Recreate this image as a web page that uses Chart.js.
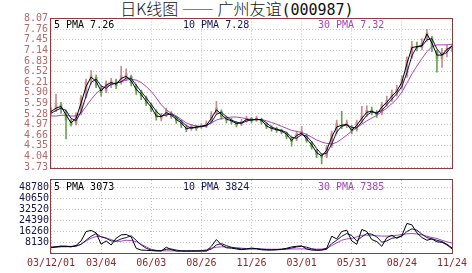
<!DOCTYPE html>
<html lang="zh-CN">
<head>
<meta charset="UTF-8">
<title>日K线图 —— 广州友谊(000987)</title>
<script src="https://cdn.jsdelivr.net/npm/chart.js"></script>
<style>
    body { margin: 0; background: #fff; width: 472px; height: 273px; overflow: hidden; position: relative; }
    #title { position: absolute; left: 0; top: -1px; width: 474px; text-align: center; font-family: "Noto Sans CJK SC", sans-serif; font-size: 16px; font-weight: 300; line-height: 19px; color: #111; }
    #title b { font-family: "DejaVu Sans Mono", monospace; font-size: 15px; }
    #priceBox { position: absolute; left: 0; top: 0; }
    #volBox { position: absolute; left: 0; top: 172px; }
</style>
</head>
<body>
<div id="title">日K线图 —— 广州友谊<b>(000987)</b></div>
<canvas id="priceBox" width="472" height="176"></canvas>
<canvas id="volBox" width="472" height="101"></canvas>

<script>
// x轴日期标签 (每10个点一个)
const dateLabels = ['03/12/01', '03/04', '06/03', '08/26', '11/26', '03/01', '05/31', '08/24', '11/24'];
const priceTicks = [3.73, 4.04, 4.35, 4.66, 4.97, 5.28, 5.59, 5.90, 6.21, 6.52, 6.83, 7.14, 7.45, 7.76, 8.07];
const volTicks = [8130, 16260, 24390, 32520, 40650, 48780];
const maNames = ['5 PMA', '10 PMA', '30 PMA'];

// K线 (开, 收, 高, 低)
const open = [5.30, 5.40, 5.55, 5.35, 5.08, 5.00, 5.30, 5.80, 6.25, 6.35, 6.05, 5.95, 6.15, 6.25, 6.20, 6.35, 6.38, 6.10, 5.92, 5.75,
    5.55, 5.35, 5.15, 5.25, 5.30, 5.18, 5.05, 4.90, 4.85, 4.88, 4.90, 4.92, 5.05, 5.30, 5.35, 5.18, 5.10, 5.02, 4.98, 5.08,
    5.15, 5.10, 5.12, 5.00, 4.90, 4.85, 4.80, 4.72, 4.58, 4.55, 4.70, 4.65, 4.45, 4.22, 4.08, 4.05, 4.35, 4.75, 4.95, 4.95,
    4.90, 4.82, 5.05, 5.25, 5.40, 5.30, 5.30, 5.55, 5.70, 5.88, 6.05, 6.40, 6.95, 7.25, 7.22, 7.45, 7.50, 7.10, 6.90, 7.10, 7.18];
const close = [5.40, 5.55, 5.42, 5.10, 4.98, 5.25, 5.75, 6.20, 6.40, 6.12, 5.90, 6.18, 6.25, 6.10, 6.40, 6.45, 6.18, 5.95, 5.80, 5.60,
    5.42, 5.18, 5.25, 5.38, 5.20, 5.08, 4.95, 4.82, 4.92, 4.85, 4.95, 5.00, 5.25, 5.45, 5.20, 5.10, 5.05, 4.96, 5.06, 5.15,
    5.08, 5.16, 5.05, 4.90, 4.84, 4.80, 4.75, 4.62, 4.48, 4.70, 4.78, 4.50, 4.32, 4.10, 4.02, 4.30, 4.70, 5.00, 4.92, 5.02,
    4.78, 5.02, 5.22, 5.38, 5.32, 5.25, 5.55, 5.68, 5.85, 6.00, 6.30, 6.85, 7.25, 7.20, 7.35, 7.65, 7.25, 6.90, 7.08, 7.20, 7.25];
const high = [5.48, 5.86, 5.62, 5.40, 5.12, 5.32, 5.82, 6.30, 6.55, 6.42, 6.10, 6.25, 6.32, 6.30, 6.67, 6.60, 6.42, 6.15, 5.98, 5.80,
    5.60, 5.40, 5.30, 5.45, 5.35, 5.22, 5.10, 4.95, 4.98, 4.95, 5.00, 5.08, 5.35, 5.65, 5.40, 5.22, 5.15, 5.06, 5.12, 5.22,
    5.18, 5.22, 5.16, 5.02, 4.94, 4.90, 4.84, 4.75, 4.62, 4.78, 4.92, 4.70, 4.48, 4.25, 4.12, 4.36, 4.78, 5.10, 5.36, 5.10,
    4.95, 5.10, 5.50, 5.52, 5.48, 5.38, 5.62, 5.80, 5.98, 6.12, 6.40, 6.95, 7.40, 7.38, 7.48, 7.75, 7.55, 7.15, 7.20, 7.30, 7.30];
const low = [5.25, 5.35, 5.30, 4.55, 4.92, 4.95, 5.25, 5.75, 6.15, 6.05, 5.80, 5.90, 6.05, 6.02, 6.15, 6.25, 6.10, 5.85, 5.70, 5.52,
    5.35, 5.10, 5.08, 5.20, 5.15, 5.00, 4.88, 4.76, 4.80, 4.80, 4.86, 4.88, 5.00, 5.25, 5.12, 5.02, 4.98, 4.90, 4.94, 5.04,
    5.02, 5.06, 4.98, 4.85, 4.78, 4.74, 4.70, 4.55, 4.34, 4.50, 4.65, 4.45, 4.25, 4.00, 3.82, 4.00, 4.30, 4.70, 4.85, 4.88,
    4.70, 4.78, 5.00, 5.20, 5.25, 5.18, 5.25, 5.50, 5.65, 5.80, 6.00, 6.35, 6.90, 7.12, 7.15, 7.40, 7.10, 6.50, 6.64, 6.95, 7.10];

// 价格均线
const ma5 = [5.35, 5.45, 5.50, 5.25, 5.02, 5.15, 5.60, 6.08, 6.36, 6.23, 5.95, 6.12, 6.20, 6.15, 6.32, 6.38, 6.25, 6.00, 5.85, 5.65,
    5.48, 5.22, 5.20, 5.32, 5.25, 5.12, 5.02, 4.85, 4.88, 4.90, 4.92, 4.95, 5.15, 5.40, 5.27, 5.13, 5.08, 5.00, 5.02, 5.12,
    5.10, 5.13, 5.10, 4.93, 4.86, 4.82, 4.78, 4.69, 4.50, 4.65, 4.72, 4.55, 4.38, 4.15, 4.05, 4.22, 4.60, 4.90, 4.95, 4.98,
    4.80, 4.95, 5.15, 5.33, 5.36, 5.28, 5.48, 5.62, 5.80, 5.95, 6.21, 6.75, 7.22, 7.25, 7.28, 7.62, 7.35, 7.00, 7.00, 7.17, 7.26];
const ma10 = [5.30, 5.38, 5.45, 5.38, 5.15, 5.08, 5.35, 5.80, 6.20, 6.30, 6.10, 6.03, 6.15, 6.18, 6.22, 6.33, 6.32, 6.12, 5.93, 5.75,
    5.56, 5.36, 5.22, 5.25, 5.28, 5.18, 5.07, 4.94, 4.86, 4.89, 4.91, 4.93, 5.04, 5.27, 5.33, 5.20, 5.10, 5.04, 5.01, 5.07,
    5.11, 5.11, 5.12, 5.02, 4.90, 4.84, 4.80, 4.74, 4.60, 4.57, 4.68, 4.63, 4.47, 4.27, 4.10, 4.13, 4.40, 4.75, 4.92, 4.96,
    4.89, 4.87, 5.05, 5.24, 5.34, 5.32, 5.38, 5.55, 5.71, 5.88, 6.08, 6.48, 6.98, 7.24, 7.26, 7.45, 7.48, 7.18, 7.00, 7.08, 7.28];
const ma30 = [5.22, 5.22, 5.24, 5.24, 5.22, 5.22, 5.30, 5.50, 5.70, 5.88, 6.00, 6.08, 6.14, 6.18, 6.22, 6.27, 6.29, 6.27, 6.20, 6.08,
    5.94, 5.75, 5.55, 5.40, 5.30, 5.22, 5.12, 5.02, 4.96, 4.93, 4.92, 4.95, 5.02, 5.10, 5.15, 5.17, 5.19, 5.19, 5.17, 5.14,
    5.12, 5.12, 5.12, 5.08, 5.03, 4.98, 4.92, 4.86, 4.80, 4.77, 4.74, 4.68, 4.60, 4.52, 4.46, 4.42, 4.40, 4.45, 4.55, 4.66,
    4.78, 4.88, 4.98, 5.08, 5.16, 5.24, 5.35, 5.45, 5.58, 5.72, 5.92, 6.18, 6.45, 6.68, 6.90, 7.10, 7.25, 7.30, 7.30, 7.30, 7.32];

// 成交量均线
const vol5 = [3900, 4600, 5200, 5000, 4600, 5600, 9000, 16000, 16800, 15000, 6500, 9000, 6000, 11000, 13500, 13800, 12000, 3500, 2200, 2000,
    1800, 1500, 1500, 4300, 2500, 1500, 1500, 1400, 1500, 1500, 1600, 1500, 5000, 10000, 6000, 3900, 3600, 3000, 2500, 3000,
    3700, 3200, 2400, 2200, 2300, 2500, 2800, 3500, 4500, 5000, 5300, 3000, 2200, 2000, 2300, 3500, 12500, 10500, 16000, 17000,
    9000, 6500, 17500, 16000, 10000, 8500, 5000, 11500, 13200, 11000, 13000, 22000, 21000, 15000, 11500, 9500, 10500, 8300, 8000, 6000, 3073];
const vol10 = [4200, 4400, 4800, 5000, 4900, 5200, 6500, 9500, 12500, 14500, 12000, 11000, 9000, 8800, 10500, 11500, 12800, 9500, 6000, 3500,
    2200, 1800, 1700, 2800, 3000, 2200, 1600, 1500, 1500, 1500, 1500, 1600, 3000, 6000, 7000, 5500, 4200, 3500, 3000, 3000,
    3200, 3300, 2900, 2500, 2300, 2400, 2600, 3000, 3700, 4500, 5000, 4300, 3200, 2300, 2200, 2800, 7000, 9500, 12500, 14500,
    13000, 9000, 12000, 14500, 14000, 12000, 8000, 9000, 11000, 11500, 12500, 16000, 18000, 17000, 14000, 11500, 10500, 9500, 8500, 6500, 3824];
const vol30 = [4600, 4600, 4600, 4600, 4700, 5000, 6500, 9000, 11000, 12300, 12300, 11200, 10000, 8700, 8800, 9500, 9300, 8500, 6500, 4500,
    2800, 2000, 1700, 1600, 1600, 1500, 1500, 1500, 1500, 1500, 1700, 2500, 3500, 4300, 4600, 4500, 4200, 4000, 3600, 3200,
    3000, 2900, 2900, 2900, 2800, 2800, 2900, 2900, 3000, 3000, 3100, 3000, 2900, 2900, 2900, 3500, 5500, 7500, 9500, 10500,
    10800, 12000, 13200, 13300, 13200, 12800, 12600, 12600, 12700, 13200, 13800, 14300, 14500, 14200, 13500, 12500, 11500, 10800, 9500, 8300, 7385];

const maColors = ['#000000', '#14145a', '#a844b8'];
const upColor = '#c98c8c';
const downColor = '#6aa452';
const gridColor = '#c4c4c4';
const frameColor = '#8c3c3c';
const mono = 'DejaVu Sans Mono';

const pts = arr => arr.map((v, i) => ({ x: i, y: v }));
const candleColor = c => close[c.dataIndex] >= open[c.dataIndex] ? upColor : downColor;

function maLine(arr, k) {
    return { type: 'line', data: pts(arr), borderColor: maColors[k], borderWidth: 1, pointRadius: 0, tension: 0, order: k };
}

// 边框
const framePlugin = {
    id: 'frame',
    afterDraw(chart) {
        const a = chart.chartArea, ctx = chart.ctx;
        ctx.save();
        ctx.strokeStyle = frameColor;
        ctx.lineWidth = 1;
        ctx.strokeRect(Math.round(a.left) - 0.5, Math.round(a.top) - 0.5, Math.round(a.right - a.left) + 1, Math.round(a.bottom - a.top) + 1);
        ctx.restore();
    }
};

// 图内均线数值
function legendPlugin(series, digits) {
    return {
        id: 'maText',
        afterDraw(chart) {
            const a = chart.chartArea, ctx = chart.ctx;
            const xs = [3, 132, 267];
            ctx.save();
            ctx.font = '10px "' + mono + '"';
            ctx.textBaseline = 'top';
            series.forEach((arr, k) => {
                ctx.fillStyle = maColors[k];
                ctx.fillText(maNames[k] + ' ' + arr[arr.length - 1].toFixed(digits), a.left + xs[k], a.top + 2);
            });
            ctx.restore();
        }
    };
}

const xScale = showLabels => ({
    type: 'linear', min: 0, max: 80, offset: false,
    grid: { color: gridColor, drawTicks: false, offset: false },
    border: { display: false, dash: [1, 2] },
    ticks: {
        display: showLabels, stepSize: 10, padding: 4, maxRotation: 0, autoSkip: false,
        color: '#8a2a2a', font: { family: mono, size: 10 },
        callback: v => dateLabels[Math.round(v / 10)]
    },
    afterFit: s => { s.height = showLabels ? 20 : 0; }
});

const yScale = (min, max, list, fmt, color, pad) => ({
    min: min, max: max,
    afterBuildTicks: s => { s.ticks = list.map(v => ({ value: v })); },
    grid: { color: gridColor, drawTicks: false },
    border: { display: false, dash: [1, 2] },
    ticks: { padding: pad, autoSkip: false, color: color, font: { family: mono, size: 10 }, callback: fmt },
    afterFit: s => { s.width = 51; }
});

new Chart(document.getElementById('priceBox'), {
    type: 'bar',
    data: {
        datasets: [
            maLine(ma5, 0), maLine(ma10, 1), maLine(ma30, 2),
            { type: 'bar', data: low.map((l, i) => ({ x: i, y: [l, high[i]] })), backgroundColor: candleColor, barThickness: 1, grouped: false, order: 6 },
            { type: 'bar', data: open.map((o, i) => ({ x: i, y: [o, close[i]] })), backgroundColor: candleColor, barThickness: 2, grouped: false, order: 5 }
        ]
    },
    options: {
        responsive: false, animation: false,
        layout: { padding: { top: 18.5, right: 20, bottom: 7.5, left: 0 } },
        plugins: { legend: { display: false }, tooltip: { enabled: false } },
        scales: {
            x: xScale(false),
            y: yScale(3.73, 8.07, priceTicks, v => v.toFixed(2), '#b26a6a', 3)
        }
    },
    plugins: [framePlugin, legendPlugin([ma5, ma10, ma30], 2)]
});

new Chart(document.getElementById('volBox'), {
    type: 'line',
    data: { datasets: [maLine(vol5, 0), maLine(vol10, 1), maLine(vol30, 2)] },
    options: {
        responsive: false, animation: false,
        layout: { padding: { top: 7, right: 20, bottom: 0, left: 0 } },
        plugins: { legend: { display: false }, tooltip: { enabled: false } },
        scales: {
            x: xScale(true),
            y: yScale(0, 54400, volTicks, v => String(v), '#141448', 2)
        }
    },
    plugins: [framePlugin, legendPlugin([vol5, vol10, vol30], 0)]
});
</script>
</body>
</html>
